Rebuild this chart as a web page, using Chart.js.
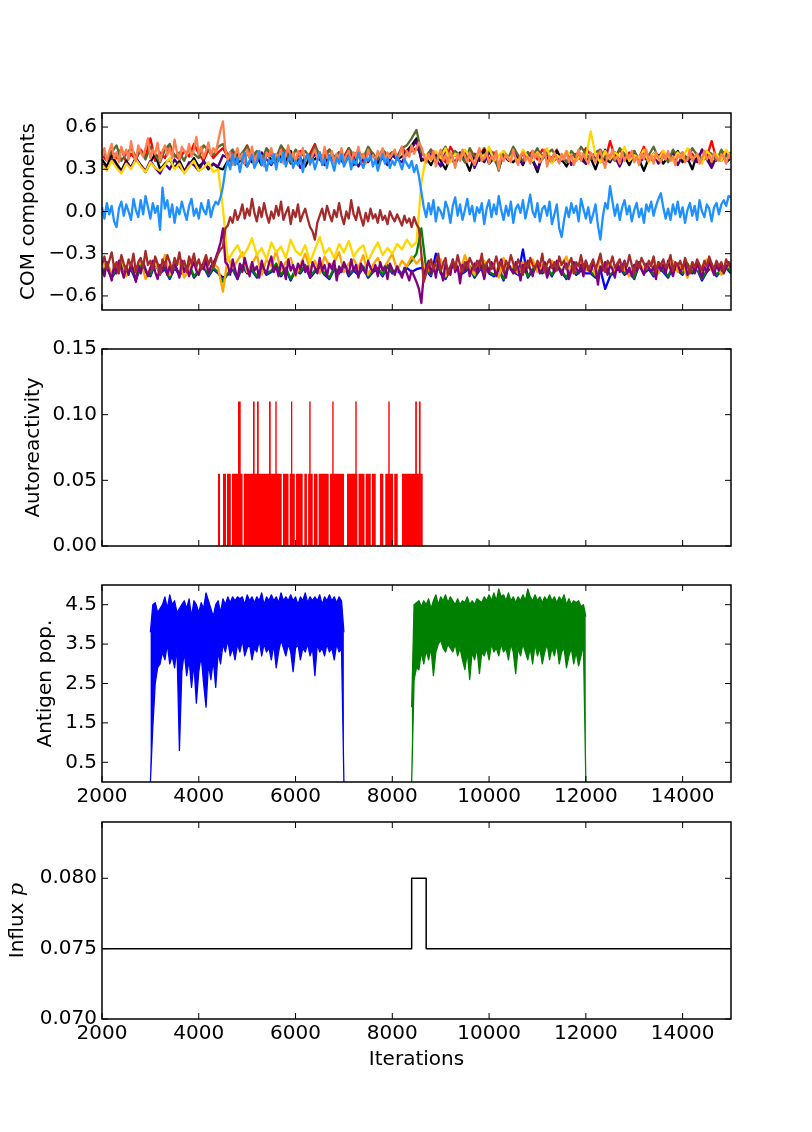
<!DOCTYPE html>
<html>
<head>
<meta charset="utf-8">
<title>COM components / autoreactivity / antigen / influx</title>
<script src="https://cdn.jsdelivr.net/npm/chart.js@4.4.1/dist/chart.umd.min.js"></script>
<style>
  html, body { margin: 0; padding: 0; background: #fff; }
  #fig { position: relative; width: 812px; height: 1132px; overflow: hidden; }
  #fig canvas { position: absolute; left: 0; }
</style>
</head>
<body>
<div id="fig">
  <canvas id="com" width="812" height="217" style="top:98px"></canvas>
  <canvas id="auto" width="812" height="227" style="top:334px"></canvas>
  <canvas id="antigen" width="812" height="242" style="top:570px"></canvas>
  <canvas id="influx" width="812" height="269" style="top:807px"></canvas>
</div>
<script>
// ---- shared x axis ----
const iterTicks = [2000, 4000, 6000, 8000, 10000, 12000, 14000];

// ---- panel 1: COM components, all series start at 2000 ----
// the four lines that sit on top are sampled every 50 iterations, the rest every 100
const comStart = 2000;
const comFineStep = 50;
const comStep = 100;
const comTicks = [-0.6, -0.3, 0, 0.3, 0.6];
const comTickLabels = ['\u22120.6', '\u22120.3', '0.0', '0.3', '0.6'];

const comDodgerblue = [
  .03,-.05,.06,-.02,.04,-.07,-.11,.02,.07,-.03,.05,.00,-.06,.09,.01,-.04,.08,-.02,.11,.03,
  -.05,.06,-.01,.04,-.13,.17,.02,.08,-.04,.05,-.08,.03,-.02,.07,.00,-.06,.04,.09,-.03,.02,
  -.05,.06,.01,-.02,.08,-.04,.03,.07,.05,.10,
  .18,.30,
  .36,.30,.41,.33,.38,.28,.37,.42,.32,.36,.40,.31,.35,.43,.33,.38,.29,.37,.34,.41,
  .30,.39,.35,.42,.32,.37,.40,.31,.36,.33,.39,.28,.37,.41,.34,.38,.30,.36,.42,.33,
  .37,.31,.40,.35,.29,.38,.34,.41,.32,.36,.39,.30,.37,.33,.42,.35,.31,.38,.36,.40,
  .32,.37,.29,.35,.41,.34,.38,.31,.36,.33,.39,.35,.30,.37,.34,.31,.36,.28,.33,.25,
  .14,.03,
  -.04,.06,-.02,.08,-.07,.03,.00,-.05,.07,.02,-.08,.04,.10,-.03,.05,-.06,.01,.09,-.02,.04,
  -.07,.03,-.01,.06,-.09,.02,.08,-.04,.05,-.02,.11,.01,-.06,.04,-.03,.07,-.08,.02,.05,-.01,
  .08,-.05,.03,.12,.00,-.04,.06,-.07,.02,.04,-.03,.07,-.09,-.02,.05,-.12,-.18,-.06,.03,-.04,
  .06,-.01,.04,-.07,.09,.02,-.05,.03,-.08,-.02,.05,-.10,-.20,-.04,.06,.02,.18,.07,-.03,.05,
  -.06,.03,.08,-.02,.04,-.07,.01,.06,-.04,.02,-.08,.05,.00,.07,-.03,.04,.09,.13,.03,-.05,
  .02,-.06,.05,-.02,.07,-.04,.03,-.08,.01,.06,-.03,.04,-.06,.08,.00,-.04,.05,.02,-.07,.03,
  .06,-.02,.05,.08,.04,.11,.10
];
const comBrown = [
  -.38,-.32,-.41,-.35,-.29,-.40,-.36,-.44,-.31,-.37,-.42,-.34,-.39,-.30,-.43,-.36,-.33,-.40,-.28,-.38,
  -.35,-.41,-.32,-.37,-.45,-.34,-.39,-.31,-.36,-.42,-.33,-.38,-.29,-.40,-.35,-.43,-.32,-.37,-.30,-.39,
  -.34,-.41,-.36,-.31,-.38,-.33,-.40,-.35,-.30,-.27,
  -.25,-.12,
  -.10,-.04,-.08,.01,-.06,-.02,.05,-.05,.02,-.03,.09,-.01,-.07,.03,-.04,.06,-.02,-.08,.00,-.05,
  .04,-.03,.07,-.06,-.01,.03,-.09,.01,-.04,.05,-.07,-.02,.02,-.05,-.11,-.14,-.20,-.08,-.03,.02,
  -.06,.04,-.02,-.07,.01,-.04,.06,-.03,-.09,.00,-.05,.08,-.02,-.06,.03,-.04,-.10,-.01,-.07,.02,
  -.05,-.02,-.08,.01,-.06,-.03,-.09,.00,-.04,-.07,-.02,-.06,-.10,-.03,-.08,-.05,-.11,-.04,-.09,-.12,
  -.30,-.50,
  -.44,-.38,-.34,-.41,-.36,-.30,-.42,-.37,-.33,-.45,-.39,-.35,-.41,-.31,-.38,-.43,-.36,-.40,-.33,-.37,
  -.42,-.35,-.39,-.30,-.44,-.37,-.34,-.41,-.38,-.32,-.40,-.36,-.43,-.35,-.39,-.31,-.37,-.42,-.34,-.38,
  -.45,-.36,-.40,-.33,-.38,-.41,-.35,-.39,-.30,-.43,-.37,-.34,-.40,-.36,-.42,-.32,-.38,-.35,-.41,-.37,
  -.33,-.44,-.36,-.39,-.31,-.40,-.35,-.42,-.38,-.34,-.41,-.36,-.30,-.39,-.43,-.35,-.38,-.32,-.40,-.37,
  -.34,-.42,-.36,-.39,-.31,-.38,-.44,-.35,-.40,-.33,-.37,-.41,-.35,-.39,-.32,-.43,-.36,-.38,-.34,-.40,
  -.37,-.31,-.42,-.36,-.39,-.35,-.41,-.33,-.38,-.44,-.36,-.40,-.34,-.38,-.42,-.35,-.39,-.32,-.37,-.41,
  -.35,-.39,-.36,-.42,-.34,-.38,-.37
];
const comCoral = [
  .39,.45,.36,.43,.48,.38,.42,.35,.46,.40,.44,.37,.50,.41,.36,.47,.42,.39,.45,.52,
  .38,.44,.41,.49,.36,.43,.47,.40,.45,.38,.51,.42,.37,.46,.43,.40,.48,.39,.44,.53,
  .41,.46,.38,.43,.49,.40,.45,.42,.50,.58,
  .64,.44,
  .36,.42,.33,.40,.45,.37,.41,.34,.44,.38,.46,.35,.40,.43,.37,.32,.42,.39,.45,.36,
  .41,.38,.44,.34,.40,.47,.37,.42,.35,.43,.39,.45,.36,.41,.33,.40,.44,.38,.42,.35,
  .46,.39,.37,.43,.34,.41,.38,.45,.36,.40,.43,.35,.42,.39,.46,.37,.41,.34,.44,.38,
  .40,.36,.43,.39,.45,.35,.42,.38,.41,.44,.37,.40,.46,.36,.43,.39,.47,.41,.45,.49,
  .46,.40,
  .35,.41,.37,.43,.32,.39,.44,.36,.40,.34,.42,.38,.31,.41,.36,.44,.39,.35,.42,.37,
  .33,.40,.45,.36,.38,.42,.34,.39,.37,.43,.30,.40,.36,.41,.38,.35,.44,.37,.33,.40,
  .42,.36,.39,.34,.43,.38,.41,.35,.37,.44,.32,.39,.36,.42,.38,.34,.41,.37,.43,.35,
  .40,.33,.38,.44,.36,.41,.37,.34,.42,.39,.35,.40,.43,.36,.31,.41,.38,.44,.37,.39,
  .34,.42,.36,.40,.38,.43,.35,.39,.33,.41,.37,.44,.36,.40,.34,.42,.38,.35,.41,.37,
  .43,.36,.39,.33,.40,.38,.42,.35,.37,.44,.36,.39,.41,.34,.38,.43,.37,.40,.35,.42,
  .38,.36,.41,.39,.34,.40,.37
];
const comPurple = [
  -.40,-.46,-.36,-.43,-.49,-.38,-.44,-.35,-.41,-.47,-.39,-.45,-.37,-.42,-.50,-.38,-.44,-.36,-.41,-.46,
  -.40,-.35,-.43,-.48,-.38,-.42,-.36,-.45,-.39,-.44,-.37,-.41,-.47,-.35,-.43,-.39,-.46,-.40,-.36,-.42,
  -.45,-.38,-.41,-.34,-.44,-.39,-.37,-.33,-.28,-.22,
  -.12,-.36,
  -.38,-.45,-.34,-.41,-.48,-.37,-.43,-.33,-.40,-.46,-.36,-.42,-.39,-.47,-.35,-.41,-.44,-.37,-.32,-.43,
  -.39,-.46,-.36,-.40,-.48,-.34,-.42,-.38,-.45,-.37,-.41,-.35,-.43,-.39,-.47,-.36,-.40,-.44,-.33,-.42,
  -.38,-.46,-.37,-.41,-.35,-.49,-.39,-.43,-.36,-.40,-.45,-.34,-.42,-.38,-.47,-.37,-.41,-.44,-.35,-.40,
  -.43,-.38,-.46,-.36,-.42,-.39,-.48,-.37,-.41,-.45,-.39,-.43,-.47,-.40,-.44,-.49,-.42,-.46,-.50,-.55,
  -.65,-.45,
  -.40,-.35,-.44,-.38,-.47,-.36,-.42,-.49,-.37,-.41,-.45,-.34,-.43,-.39,-.51,-.38,-.42,-.36,-.46,-.40,
  -.37,-.44,-.35,-.41,-.48,-.38,-.43,-.36,-.40,-.46,-.39,-.34,-.42,-.47,-.37,-.41,-.44,-.36,-.40,-.49,
  -.38,-.43,-.35,-.41,-.46,-.39,-.37,-.44,-.42,-.36,-.47,-.40,-.38,-.43,-.35,-.41,-.45,-.39,-.37,-.48,
  -.42,-.36,-.40,-.44,-.38,-.46,-.35,-.41,-.43,-.37,-.40,-.52,-.39,-.42,-.36,-.45,-.38,-.41,-.47,-.37,
  -.43,-.39,-.35,-.44,-.40,-.46,-.38,-.42,-.36,-.41,-.45,-.37,-.40,-.43,-.39,-.48,-.36,-.42,-.38,-.44,
  -.35,-.41,-.46,-.39,-.37,-.43,-.40,-.36,-.45,-.42,-.38,-.44,-.37,-.41,-.47,-.39,-.43,-.36,-.40,-.45,
  -.38,-.42,-.37,-.44,-.40,-.36,-.41
];
const comGold = [
  .33,.29,.36,.31,.27,.34,.30,.37,.32,.28,.35,.31,.29,.33,.38,.30,.34,.27,.32,.36,.29,.31,.35,.28,.30,
  .02,
  -.35,-.29,-.24,-.32,-.27,-.19,-.31,-.26,-.34,-.22,-.29,-.25,-.33,-.20,-.28,-.31,-.24,-.36,-.27,-.18,
  -.30,-.26,-.33,-.23,-.29,-.21,-.32,-.27,-.24,-.35,-.28,-.22,-.31,-.26,-.30,-.23,-.27,-.20,-.25,-.22,
  .20,
  .40,.36,.43,.38,.45,.35,.41,.37,.44,.39,.34,.42,.38,.46,.36,.40,.43,.37,.41,.35,
  .44,.39,.36,.42,.38,.45,.34,.40,.37,.43,.39,.36,.41,.38,.57,.40,.35,.43,.37,.42,
  .39,.46,.36,.40,.38,.44,.35,.41,.37,.43,.39,.36,.42,.38,.45,.37,.40,.34,.43,.39,
  .41,.36,.44,.38
];
const comOrange = [
  -.41,-.36,-.44,-.39,-.33,-.46,-.38,-.42,-.35,-.48,-.40,-.37,-.43,-.31,-.45,-.39,-.36,-.47,-.41,-.34,-.44,-.38,-.42,-.37,-.40,
  -.57,
  -.32,-.40,-.35,-.29,-.43,-.37,-.31,-.45,-.34,-.39,-.28,-.42,-.36,-.33,-.46,-.38,-.30,-.41,-.35,-.44,
  -.32,-.39,-.36,-.29,-.43,-.37,-.34,-.40,-.31,-.45,-.38,-.33,-.41,-.36,-.30,-.42,-.35,-.39,-.32,-.37,
  -.33,
  -.44,-.37,-.41,-.34,-.46,-.39,-.36,-.43,-.31,-.40,-.45,-.38,-.35,-.42,-.37,-.47,-.33,-.41,-.39,-.44,
  -.36,-.40,-.34,-.43,-.38,-.46,-.35,-.41,-.37,-.32,-.44,-.39,-.36,-.42,-.38,-.45,-.34,-.40,-.37,-.43,
  -.35,-.41,-.46,-.38,-.36,-.42,-.39,-.33,-.44,-.37,-.40,-.35,-.43,-.38,-.47,-.36,-.41,-.39,-.34,-.42,
  -.37,-.45,-.40,-.36
];
const comOlive = [
  .44,.38,.42,.47,.36,.41,.45,.39,.43,.37,.46,.40,.35,.44,.48,.39,.42,.36,.45,.41,.38,.47,.43,.40,.46,
  .48,
  .40,.44,.37,.42,.46,.39,.43,.36,.45,.41,.38,.47,.42,.35,.44,.40,.43,.38,.46,.41,
  .37,.44,.39,.42,.36,.45,.40,.43,.38,.46,.41,.37,.44,.40,.42,.39,.45,.47,.52,.58,
  .42,
  .39,.44,.36,.41,.46,.38,.43,.40,.35,.45,.39,.42,.37,.44,.41,.29,.43,.38,.46,.40,
  .36,.42,.39,.45,.37,.41,.44,.38,.40,.35,.43,.39,.46,.41,.37,.42,.44,.38,.40,.36,
  .45,.41,.39,.43,.37,.42,.40,.46,.38,.41,.35,.44,.39,.42,.37,.45,.40,.38,.43,.41,
  .36,.44,.39,.42
];
const comGreen = [
  -.43,-.39,-.46,-.41,-.37,-.44,-.40,-.48,-.38,-.42,-.45,-.36,-.43,-.40,-.47,-.39,-.44,-.41,-.37,-.46,-.42,-.38,-.45,-.40,-.43,
  -.50,
  -.44,-.40,-.47,-.38,-.43,-.41,-.46,-.39,-.44,-.42,-.37,-.45,-.40,-.48,-.41,-.43,-.38,-.46,-.42,-.39,
  -.44,-.47,-.40,-.43,-.37,-.45,-.41,-.44,-.39,-.46,-.42,-.40,-.45,-.38,-.43,-.41,-.44,-.39,-.35,-.30,
  -.12,
  -.41,-.45,-.38,-.43,-.47,-.40,-.36,-.44,-.42,-.39,-.46,-.41,-.37,-.43,-.45,-.40,-.48,-.38,-.42,-.44,
  -.39,-.46,-.41,-.37,-.43,-.40,-.45,-.38,-.42,-.47,-.39,-.44,-.41,-.36,-.43,-.46,-.40,-.38,-.45,-.42,
  -.39,-.44,-.41,-.47,-.37,-.43,-.40,-.45,-.38,-.42,-.46,-.39,-.41,-.44,-.37,-.43,-.40,-.48,-.42,-.38,
  -.45,-.41,-.39,-.43
];
const comIndigo = [
  .34,.30,.37,.32,.28,.35,.31,.38,.33,.29,.36,.31,.27,.34,.30,.37,.32,.28,.35,.33,.29,.36,.31,.34,.32,
  .40,
  .38,.34,.41,.36,.32,.39,.35,.42,.37,.33,.40,.36,.43,.34,.38,.31,.39,.35,.41,.37,
  .33,.40,.36,.38,.34,.42,.37,.32,.39,.35,.41,.36,.38,.33,.40,.37,.35,.42,.45,.50,
  .38,
  .35,.41,.37,.32,.44,.38,.34,.40,.36,.43,.31,.39,.35,.42,.37,.33,.40,.36,.45,.38,
  .34,.41,.37,.30,.39,.43,.35,.38,.36,.42,.33,.40,.37,.34,.41,.38,.35,.44,.36,.39,
  .32,.40,.37,.43,.35,.38,.36,.41,.34,.39,.37,.42,.33,.40,.36,.38,.35,.44,.37,.31,
  .39,.36,.41,.38
];
const comBlue = [
  -.44,-.40,-.47,-.42,-.38,-.45,-.41,-.49,-.39,-.43,-.46,-.37,-.44,-.41,-.48,-.40,-.45,-.42,-.38,-.47,-.43,-.39,-.46,-.41,-.44,
  -.47,
  -.45,-.41,-.48,-.39,-.44,-.42,-.47,-.40,-.45,-.43,-.38,-.46,-.41,-.49,-.42,-.44,-.39,-.47,-.43,-.40,
  -.45,-.48,-.41,-.44,-.38,-.46,-.42,-.45,-.40,-.47,-.43,-.41,-.46,-.39,-.44,-.42,-.45,-.40,-.43,-.41,
  -.40,
  -.42,-.46,-.30,-.44,-.48,-.41,-.37,-.45,-.43,-.40,-.47,-.42,-.38,-.44,-.46,-.41,-.49,-.39,-.43,-.45,
  -.27,-.47,-.42,-.38,-.44,-.41,-.46,-.39,-.43,-.48,-.40,-.45,-.42,-.44,-.44,-.47,-.41,-.55,-.46,-.43,
  -.40,-.45,-.42,-.48,-.38,-.44,-.41,-.46,-.39,-.43,-.47,-.40,-.42,-.45,-.38,-.44,-.41,-.49,-.43,-.39,
  -.46,-.42,-.40,-.44
];
const comBlack = [
  .37,.32,.40,.34,.29,.36,.31,.38,.33,.28,.35,.41,.30,.34,.37,.31,.36,.29,.33,.38,.32,.35,.30,.34,.31,
  .30,
  .36,.40,.34,.38,.42,.35,.39,.33,.41,.37,.34,.40,.36,.43,.35,.38,.32,.39,.37,.41,
  .34,.38,.36,.42,.35,.39,.33,.40,.37,.36,.41,.34,.38,.35,.40,.37,.39,.43,.47,.52,
  .36,
  .38,.33,.41,.36,.30,.39,.35,.42,.37,.29,.40,.36,.44,.34,.38,.31,.41,.37,.35,.39,
  .33,.42,.36,.28,.40,.38,.35,.43,.37,.32,.39,.36,.41,.34,.38,.30,.40,.37,.35,.42,
  .36,.39,.33,.41,.37,.29,.38,.36,.40,.34,.39,.37,.43,.35,.38,.30,.41,.36,.39,.34,
  .37,.42,.35,.38
];
const comRed = [
  .40,.36,.43,.38,.45,.35,.41,.37,.44,.39,.52,.36,.42,.38,.46,.40,.37,.43,.39,.48,.41,.36,.44,.38,.42,
  .45,
  .39,.43,.36,.41,.47,.38,.42,.35,.44,.40,.37,.46,.39,.42,.36,.43,.38,.41,.48,.37,
  .40,.44,.36,.42,.39,.45,.38,.41,.35,.43,.40,.37,.44,.39,.42,.38,.46,.40,.43,.45,
  .41,
  .39,.44,.37,.42,.35,.46,.40,.38,.43,.36,.41,.39,.45,.37,.42,.31,.40,.38,.44,.36,
  .41,.39,.43,.37,.44,.40,.38,.44,.36,.42,.39,.41,.37,.45,.40,.38,.43,.36,.50,.39,
  .44,.37,.42,.40,.38,.46,.36,.41,.39,.43,.37,.42,.40,.41,.38,.41,.36,.44,.39,.50,
  .37,.40,.43,.38
];

// ---- panel 2: autoreactivity, change points (value holds until next x) ----
const autoX = [2000,4397,4439,4501,4563,4583,4662,4687,4811,4867,4905,4930,5121,5155,5204,5239,5452,5487,5582,5611,
  5714,5741,5855,5880,5906,5933,5985,6010,6148,6181,6235,6260,6283,6312,6355,6380,6455,6478,6685,6712,
  6759,6787,7002,7064,7235,7264,7278,7302,7425,7450,7555,7578,7657,7746,7814,7855,7917,7946,8015,8040,
  8112,8200,8473,8508,8550,8585,8628,15000];
const autoY = [0,.055,0,.055,0,.055,0,.055,.11,.055,0,.055,.11,.055,.11,.055,.11,.055,.11,.055,
  0,.055,0,.055,.11,.055,0,.055,0,.055,0,.055,.11,.055,0,.055,0,.055,0,.055,
  .11,.055,0,.055,.11,.055,0,.055,0,.055,0,.055,0,.055,0,.055,.11,.055,0,.055,
  0,.055,.11,.055,.11,.055,0,0];
const autoTicks = [0, 0.05, 0.10, 0.15];
const autoTickLabels = ['0.00', '0.05', '0.10', '0.15'];

// ---- panel 3: antigen populations ----
// the traces are so dense they read as bands: top and bottom edge every 50 iterations
const antigenStep = 50;
const antigenBlueStart = 3000;
const antigenBlueUpper = [
  3.8,4.5,4.55,4.3,4.4,4.5,4.7,4.4,4.75,4.5,4.6,4.3,4.4,4.5,4.6,4.4,4.65,4.2,4.6,4.5,
  4.3,4.55,4.4,4.8,4.6,4.4,4.2,4.5,4.6,4.3,4.65,4.5,4.7,4.55,4.7,4.6,4.7,4.65,4.7,4.5,
  4.75,4.6,4.7,4.55,4.7,4.6,4.8,4.5,4.7,4.6,4.75,4.6,4.7,4.55,4.8,4.6,4.7,4.6,4.75,4.6,
  4.7,4.5,4.7,4.6,4.8,4.55,4.7,4.6,4.7,4.6,4.75,4.5,4.7,4.6,4.75,4.6,4.7,4.55,4.7,4.6,
  3.8
];
const antigenBlueLower = [
  0,1.4,2.5,2.9,3.0,3.3,3.1,3.5,3.0,3.2,2.9,3.4,0.8,2.8,3.3,2.7,3.1,2.4,3.0,2.0,
  2.8,3.2,2.5,1.9,3.0,2.6,3.1,2.4,3.3,3.0,3.5,3.3,3.6,3.2,3.4,3.1,3.5,3.3,3.6,3.2,
  3.4,3.5,3.1,3.4,3.3,3.6,3.2,3.5,3.3,3.4,3.1,3.5,2.9,3.3,3.6,3.4,3.2,3.5,3.3,2.8,
  3.4,3.5,3.1,3.4,3.3,3.5,3.2,3.4,2.7,3.5,3.3,3.4,3.2,3.5,3.3,3.4,3.1,3.5,3.3,3.4,
  0
];
const antigenGreenStart = 8400;
const antigenGreenUpper = [
  1.9,4.5,4.55,4.6,4.45,4.6,4.5,4.65,4.4,4.6,4.75,4.5,4.7,4.6,4.75,4.55,4.7,4.6,4.5,4.65,
  4.5,4.6,4.55,4.7,4.5,4.6,4.5,4.65,4.6,4.55,4.7,4.6,4.75,4.6,4.8,4.6,4.9,4.7,4.75,4.6,
  4.8,4.6,4.7,4.55,4.7,4.6,4.75,4.6,4.9,4.7,4.6,4.75,4.6,4.7,4.55,4.7,4.6,4.75,4.6,4.7,
  4.55,4.7,4.6,4.75,4.5,4.65,4.5,4.6,4.55,4.6,4.45,4.5,4.2
];
const antigenGreenLower = [
  0,2.6,2.9,2.85,3.3,3.0,3.35,3.1,3.4,2.7,3.3,3.5,3.6,3.4,3.3,3.5,3.4,3.3,3.5,3.2,
  3.4,3.1,2.85,3.3,2.6,3.3,3.1,3.4,2.75,3.3,3.2,3.4,3.1,3.5,3.3,3.4,3.2,3.5,3.3,3.4,
  3.1,3.5,3.3,2.75,3.4,3.2,3.5,3.3,3.1,3.4,3.0,3.5,3.2,3.4,3.0,3.3,3.5,3.1,3.4,3.2,
  3.5,3.0,3.3,3.4,2.9,3.2,3.4,3.0,3.3,2.95,3.2,3.5,0
];
const antigenTicks = [0.5, 1.5, 2.5, 3.5, 4.5];
const antigenTickLabels = ['0.5', '1.5', '2.5', '3.5', '4.5'];

// ---- panel 4: influx p, change points ----
const influxX = [2000, 8400, 8700, 15000];
const influxY = [0.075, 0.080, 0.075, 0.075];
const influxTicks = [0.070, 0.075, 0.080];
const influxTickLabels = ['0.070', '0.075', '0.080'];

Chart.defaults.font.family = '"DejaVu Sans", sans-serif';
Chart.defaults.font.size = 20;
Chart.defaults.color = '#000';

function series(start, step, values) {
  return values.map((v, i) => ({ x: start + i * step, y: v }));
}
function pairs(xs, ys) {
  return xs.map((x, i) => ({ x: x, y: ys[i] }));
}
function comLine(values, step, color) {
  return { data: series(comStart, step, values), borderColor: color, borderWidth: 2.3 };
}
// upper edge filled down to the lower edge (the dataset that follows it)
function antigenBand(start, upper, lower, color) {
  return [
    { data: series(start, antigenStep, upper), borderColor: color, borderWidth: 1.3, fill: '+1', backgroundColor: color },
    { data: series(start, antigenStep, lower), borderColor: color, borderWidth: 1.3, fill: false }
  ];
}

// inward ticks on all four sides plus the box, like the matplotlib frame
const framePlugin = {
  id: 'frame',
  afterDraw(chart) {
    const { ctx, chartArea: a } = chart;
    const xs = chart.scales.x, ys = chart.scales.y;
    ctx.save();
    ctx.strokeStyle = '#000';
    ctx.lineWidth = 1;
    ctx.beginPath();
    xs.ticks.forEach(t => {
      const px = xs.getPixelForValue(t.value);
      ctx.moveTo(px, a.bottom); ctx.lineTo(px, a.bottom - 6);
      ctx.moveTo(px, a.top); ctx.lineTo(px, a.top + 6);
    });
    ys.ticks.forEach(t => {
      const py = ys.getPixelForValue(t.value);
      ctx.moveTo(a.left, py); ctx.lineTo(a.left + 6, py);
      ctx.moveTo(a.right, py); ctx.lineTo(a.right - 6, py);
    });
    ctx.stroke();
    ctx.lineWidth = 1.5;
    ctx.strokeRect(a.left, a.top, a.right - a.left, a.bottom - a.top);
    ctx.restore();
  }
};

// "Influx p" with a math-italic p
const influxTitlePlugin = {
  id: 'influxTitle',
  afterDraw(chart) {
    const { ctx, chartArea: a } = chart;
    const f1 = '20px "DejaVu Sans"';
    const f2 = 'italic 21px "DejaVu Serif"';
    ctx.save();
    ctx.translate(18, (a.top + a.bottom) / 2);
    ctx.rotate(-Math.PI / 2);
    ctx.fillStyle = '#000';
    ctx.textBaseline = 'middle';
    ctx.textAlign = 'left';
    ctx.font = f1;
    const w1 = ctx.measureText('Influx ').width;
    ctx.font = f2;
    const w2 = ctx.measureText('p').width;
    const s = -(w1 + w2) / 2;
    ctx.font = f1;
    ctx.fillText('Influx ', s, 0);
    ctx.font = f2;
    ctx.fillText('p', s + w1, 0);
    ctx.restore();
  }
};

function makeChart(id, cfg) {
  return new Chart(document.getElementById(id), {
    type: 'line',
    data: { datasets: cfg.datasets },
    options: {
      responsive: false,
      animation: false,
      events: [],
      layout: { padding: { top: 15, right: 81, left: 0, bottom: 0 } },
      plugins: { legend: { display: false }, tooltip: { enabled: false } },
      elements: { point: { radius: 0 }, line: { tension: 0, borderJoinStyle: 'round' } },
      scales: {
        x: {
          type: 'linear', min: 2000, max: 15000,
          grid: { display: false, drawTicks: false },
          border: { display: false },
          afterBuildTicks: s => { s.ticks = iterTicks.map(v => ({ value: v })); },
          afterFit: s => { s.height = cfg.below; s.paddingLeft = 0; s.paddingRight = 0; },
          ticks: { display: cfg.xLabels, padding: 3, maxRotation: 0, autoSkip: false, callback: v => String(v) },
          title: { display: !!cfg.xTitle, text: cfg.xTitle || '', font: { size: 20 }, padding: { top: 0, bottom: 4 } }
        },
        y: {
          type: 'linear', min: cfg.yMin, max: cfg.yMax,
          grid: { display: false, drawTicks: false },
          border: { display: false },
          afterBuildTicks: s => { s.ticks = cfg.yTicks.map(v => ({ value: v })); },
          afterFit: s => { s.width = 102; s.paddingTop = 0; s.paddingBottom = 0; },
          ticks: { padding: 5, autoSkip: false, callback: (v, i) => cfg.yLabels[i] },
          title: { display: !!cfg.yTitle, text: cfg.yTitle || '', font: { size: 20 }, padding: { top: cfg.yTitlePad || 0, bottom: 0 } }
        }
      }
    },
    plugins: [framePlugin].concat(cfg.extraPlugins || [])
  });
}

// first dataset is drawn on top in Chart.js
makeChart('com', {
  datasets: [
    comLine(comDodgerblue, comFineStep, '#1E90FF'),
    comLine(comBrown, comFineStep, '#A52A2A'),
    comLine(comCoral, comFineStep, '#FF7F50'),
    comLine(comPurple, comFineStep, '#800080'),
    comLine(comGold, comStep, '#FFD700'),
    comLine(comOrange, comStep, '#FFA500'),
    comLine(comOlive, comStep, '#556B2F'),
    comLine(comGreen, comStep, '#008000'),
    comLine(comIndigo, comStep, '#4B0082'),
    comLine(comBlue, comStep, '#0000FF'),
    comLine(comBlack, comStep, '#000000'),
    comLine(comRed, comStep, '#FF0000')
  ],
  yMin: -0.7, yMax: 0.7, yTicks: comTicks, yLabels: comTickLabels,
  yTitle: 'COM components', yTitlePad: 17, below: 5, xLabels: false
});

makeChart('auto', {
  datasets: [{
    data: pairs(autoX, autoY), stepped: true, fill: 'origin',
    borderColor: 'rgba(0,0,0,0)', borderWidth: 1, backgroundColor: '#FF0000'
  }],
  yMin: 0, yMax: 0.15, yTicks: autoTicks, yLabels: autoTickLabels,
  yTitle: 'Autoreactivity', yTitlePad: 22, below: 15, xLabels: false
});

makeChart('antigen', {
  datasets: antigenBand(antigenBlueStart, antigenBlueUpper, antigenBlueLower, '#0000FF')
    .concat(antigenBand(antigenGreenStart, antigenGreenUpper, antigenGreenLower, '#008000')),
  yMin: 0, yMax: 5, yTicks: antigenTicks, yLabels: antigenTickLabels,
  yTitle: 'Antigen pop.', yTitlePad: 34, below: 30, xLabels: true
});

makeChart('influx', {
  datasets: [{ data: pairs(influxX, influxY), stepped: true, borderColor: '#000000', borderWidth: 1.5 }],
  yMin: 0.070, yMax: 0.084, yTicks: influxTicks, yLabels: influxTickLabels,
  below: 57, xLabels: true, xTitle: 'Iterations',
  extraPlugins: [influxTitlePlugin]
});
</script>
</body>
</html>
